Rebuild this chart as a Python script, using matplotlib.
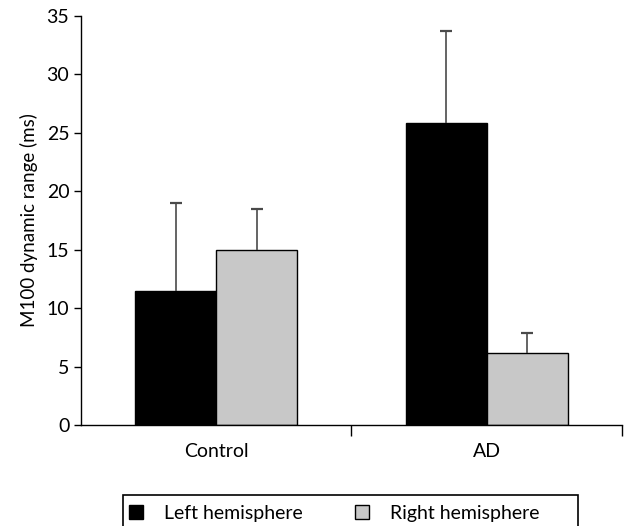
import matplotlib
matplotlib.use("Agg")
import matplotlib.pyplot as plt
from matplotlib.patches import Rectangle
import numpy as np

# data
groups = ["Control", "AD"]
left_vals = [11.5, 25.8]
left_err = [7.5, 7.9]
right_vals = [15.0, 6.2]
right_err = [3.5, 1.7]

plt.rcParams['font.family'] = ['Lato', 'DejaVu Sans']

fig = plt.figure(figsize=(6.39, 5.26), dpi=100)
ax = fig.add_axes([0.127, 0.192, 0.846, 0.778])

x = np.arange(len(groups))
w = 0.3

ax.bar(x - w / 2, left_vals, w, color="black", edgecolor="black", linewidth=1,
       label="Left hemisphere")
ax.bar(x + w / 2, right_vals, w, color="#c8c8c8", edgecolor="black", linewidth=1,
       label="Right hemisphere")

# upper error bars only
for xs, vals, errs in [(x - w / 2, left_vals, left_err), (x + w / 2, right_vals, right_err)]:
    eb = ax.errorbar(xs, vals, yerr=[np.zeros(2), errs], fmt="none",
                     ecolor="#4a4a4a", elinewidth=1.2, capsize=4.5, capthick=1.6)
    eb[1][0].set_visible(False)  # lower caps

ax.set_xlim(-0.5, 1.5)
ax.set_ylim(0, 35)
ax.set_yticks(range(0, 36, 5))
ax.set_xticks(x)
ax.set_xticklabels(groups, fontsize=14)
ax.tick_params(axis="x", length=0, pad=13)
ax.set_xticks([0.5, 1.5], minor=True)
ax.tick_params(axis="x", which="minor", length=8, width=1)
ax.tick_params(axis="y", length=5, width=1, labelsize=14)
ax.set_ylabel("M100 dynamic range (ms)", fontsize=13.5, labelpad=6)

for s in ["top", "right"]:
    ax.spines[s].set_visible(False)
ax.spines["left"].set_linewidth(1)
ax.spines["bottom"].set_linewidth(1)

# legend, with its box drawn separately (box runs off the bottom edge)
leg = fig.legend(loc="upper left", bbox_to_anchor=(122.7 / 639, 1 - 499 / 526),
                 ncol=2, fontsize=14, frameon=False,
                 handlelength=0.72, handleheight=0.72,
                 columnspacing=2.7, handletextpad=1.08, borderpad=0.3,
                 borderaxespad=0)
fig.add_artist(Rectangle((122.7 / 639, 1 - 545 / 526), (578 - 122.7) / 639,
                         50 / 526, transform=fig.transFigure, fill=False,
                         edgecolor="black", linewidth=1.2))

fig.savefig("out.png", dpi=100)
